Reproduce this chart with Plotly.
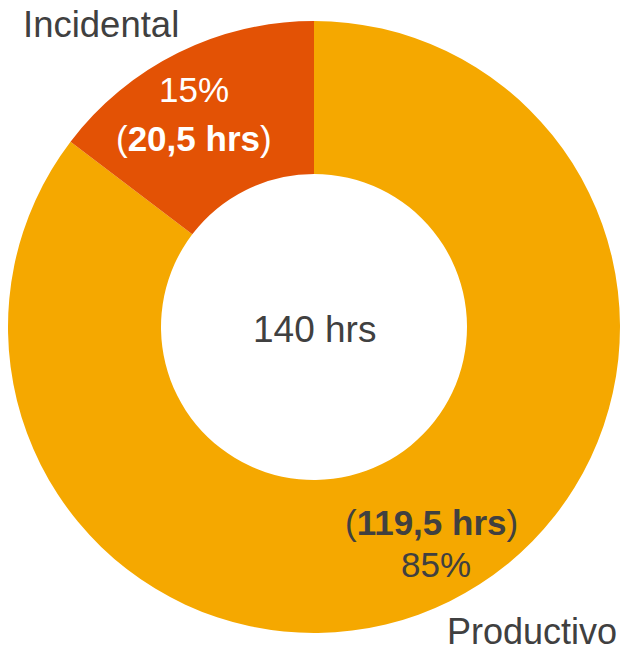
import plotly.graph_objects as go

# Hours split by activity type
categories = ["Productivo", "Incidental"]
hours = [119.5, 20.5]
colors = ["#F5A800", "#E35205"]

W, H = 623, 650
total = sum(hours)


def fmt_hours(v):
    s = f"{v:.1f}".replace(".", ",")
    if s.endswith(",0"):
        s = s[:-2]
    return s


def px(x, y):
    """Pixel position (from top-left) to paper coordinates."""
    return x / W, 1 - y / H


pct = [round(100 * h / total) for h in hours]

fig = go.Figure(
    go.Pie(
        labels=categories,
        values=hours,
        hole=0.5,
        sort=False,
        direction="clockwise",
        rotation=0,
        marker=dict(colors=colors, line=dict(width=0)),
        textinfo="none",
        hoverinfo="label+value+percent",
        domain=dict(x=[8 / W, 620 / W], y=[17 / H, 629 / H]),
    )
)

font = "Liberation Sans, Arial, sans-serif"
dark = "#404040"
ann = []

# Category names outside the ring
x, y = px(101, 24)
ann.append(dict(x=x, y=y, text=categories[1], font=dict(size=36.5, color=dark, family=font)))
x, y = px(532, 631)
ann.append(dict(x=x, y=y, text=categories[0], font=dict(size=36, color=dark, family=font)))

# Incidental slice labels
x, y = px(194, 89)
ann.append(dict(x=x, y=y, text=f"{pct[1]}%", font=dict(size=35, color="white", family=font)))
x, y = px(194, 138)
ann.append(dict(x=x, y=y, text=f"(<b>{fmt_hours(hours[1])} hrs</b>)",
                font=dict(size=35, color="white", family=font)))

# Productivo slice labels
x, y = px(432, 522)
ann.append(dict(x=x, y=y, text=f"(<b>{fmt_hours(hours[0])} hrs</b>)",
                font=dict(size=35, color=dark, family=font)))
x, y = px(436, 564)
ann.append(dict(x=x, y=y, text=f"{pct[0]}%", font=dict(size=35, color=dark, family=font)))

# Total in the hole
x, y = px(314, 329)
ann.append(dict(x=x, y=y, text=f"{fmt_hours(total)} hrs", font=dict(size=37, color=dark, family=font)))

for a in ann:
    a.update(xref="paper", yref="paper", xanchor="center", yanchor="middle", showarrow=False)

fig.update_layout(
    width=W,
    height=H,
    margin=dict(l=0, r=0, t=0, b=0),
    paper_bgcolor="white",
    plot_bgcolor="white",
    showlegend=False,
    annotations=ann,
)

fig.write_html("out.html")
